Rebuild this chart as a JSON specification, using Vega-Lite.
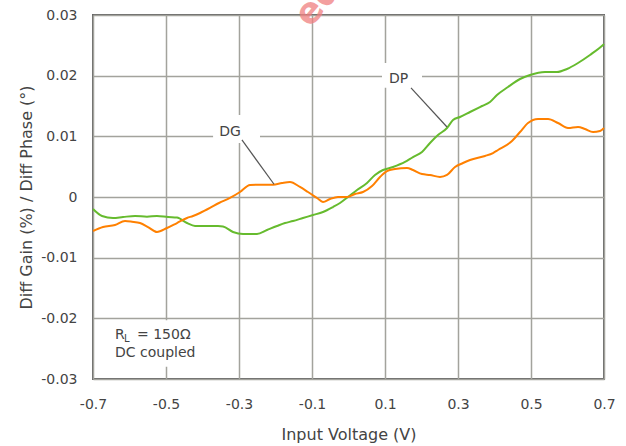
{
  "$schema": "https://vega.github.io/schema/vega-lite/v6.json",
  "width": 511,
  "height": 364,
  "autosize": {"type": "none"},
  "padding": {"left": 93, "top": 15, "right": 22, "bottom": 67},
  "background": "white",
  "config": {
    "view": {"stroke": "#666666", "strokeWidth": 2},
    "font": "DejaVu Sans",
    "axis": {
      "labelFont": "DejaVu Sans", "titleFont": "DejaVu Sans",
      "labelColor": "#444444", "titleColor": "#444444",
      "titleFontWeight": "normal", "labelFontSize": 14, "titleFontSize": 16,
      "gridColor": "#a3a39d", "gridWidth": 1.5, "gridOpacity": 1,
      "domain": false, "ticks": false, "tickSize": 0
    }
  },
  "datasets": {
    "curves": [
      {"v": -0.7, "val": -0.00198, "s": "DP"},
      {"v": -0.6753, "val": -0.00313, "s": "DP"},
      {"v": -0.6452, "val": -0.00346, "s": "DP"},
      {"v": -0.6178, "val": -0.0033, "s": "DP"},
      {"v": -0.5849, "val": -0.00313, "s": "DP"},
      {"v": -0.5521, "val": -0.00324, "s": "DP"},
      {"v": -0.5247, "val": -0.00313, "s": "DP"},
      {"v": -0.4945, "val": -0.0033, "s": "DP"},
      {"v": -0.4699, "val": -0.00338, "s": "DP"},
      {"v": -0.4425, "val": -0.00429, "s": "DP"},
      {"v": -0.4205, "val": -0.00478, "s": "DP"},
      {"v": -0.3877, "val": -0.00478, "s": "DP"},
      {"v": -0.3575, "val": -0.00478, "s": "DP"},
      {"v": -0.3438, "val": -0.00485, "s": "DP"},
      {"v": -0.3164, "val": -0.00577, "s": "DP"},
      {"v": -0.289, "val": -0.0061, "s": "DP"},
      {"v": -0.2507, "val": -0.0061, "s": "DP"},
      {"v": -0.2233, "val": -0.00544, "s": "DP"},
      {"v": -0.1959, "val": -0.00478, "s": "DP"},
      {"v": -0.174, "val": -0.00429, "s": "DP"},
      {"v": -0.1521, "val": -0.00396, "s": "DP"},
      {"v": -0.1247, "val": -0.00346, "s": "DP"},
      {"v": -0.0973, "val": -0.00297, "s": "DP"},
      {"v": -0.0699, "val": -0.00247, "s": "DP"},
      {"v": -0.0425, "val": -0.00165, "s": "DP"},
      {"v": -0.0233, "val": -0.00099, "s": "DP"},
      {"v": -0.0014, "val": 0.0, "s": "DP"},
      {"v": 0.0233, "val": 0.00115, "s": "DP"},
      {"v": 0.0507, "val": 0.00231, "s": "DP"},
      {"v": 0.0726, "val": 0.00363, "s": "DP"},
      {"v": 0.0945, "val": 0.00445, "s": "DP"},
      {"v": 0.1219, "val": 0.00494, "s": "DP"},
      {"v": 0.1548, "val": 0.00577, "s": "DP"},
      {"v": 0.1767, "val": 0.00659, "s": "DP"},
      {"v": 0.2014, "val": 0.00742, "s": "DP"},
      {"v": 0.2233, "val": 0.0089, "s": "DP"},
      {"v": 0.2452, "val": 0.01022, "s": "DP"},
      {"v": 0.2699, "val": 0.01137, "s": "DP"},
      {"v": 0.2863, "val": 0.01269, "s": "DP"},
      {"v": 0.3055, "val": 0.01319, "s": "DP"},
      {"v": 0.3329, "val": 0.01401, "s": "DP"},
      {"v": 0.3658, "val": 0.015, "s": "DP"},
      {"v": 0.3877, "val": 0.01566, "s": "DP"},
      {"v": 0.4068, "val": 0.01681, "s": "DP"},
      {"v": 0.437, "val": 0.01813, "s": "DP"},
      {"v": 0.4699, "val": 0.01945, "s": "DP"},
      {"v": 0.4973, "val": 0.02011, "s": "DP"},
      {"v": 0.5384, "val": 0.0206, "s": "DP"},
      {"v": 0.5712, "val": 0.0206, "s": "DP"},
      {"v": 0.5986, "val": 0.0211, "s": "DP"},
      {"v": 0.6288, "val": 0.02209, "s": "DP"},
      {"v": 0.6616, "val": 0.02341, "s": "DP"},
      {"v": 0.6973, "val": 0.02505, "s": "DP"},
      {"v": 0.7, "val": 0.0252, "s": "DP"},
      {"v": -0.7, "val": -0.00561, "s": "DG"},
      {"v": -0.6726, "val": -0.00495, "s": "DG"},
      {"v": -0.6397, "val": -0.00462, "s": "DG"},
      {"v": -0.6123, "val": -0.00396, "s": "DG"},
      {"v": -0.5932, "val": -0.00407, "s": "DG"},
      {"v": -0.5712, "val": -0.00429, "s": "DG"},
      {"v": -0.5493, "val": -0.00495, "s": "DG"},
      {"v": -0.5247, "val": -0.00577, "s": "DG"},
      {"v": -0.4973, "val": -0.00511, "s": "DG"},
      {"v": -0.4699, "val": -0.00429, "s": "DG"},
      {"v": -0.4425, "val": -0.00346, "s": "DG"},
      {"v": -0.426, "val": -0.00313, "s": "DG"},
      {"v": -0.4068, "val": -0.00264, "s": "DG"},
      {"v": -0.3795, "val": -0.00181, "s": "DG"},
      {"v": -0.3548, "val": -0.00099, "s": "DG"},
      {"v": -0.3247, "val": -0.00016, "s": "DG"},
      {"v": -0.2973, "val": 0.00082, "s": "DG"},
      {"v": -0.2699, "val": 0.00198, "s": "DG"},
      {"v": -0.2425, "val": 0.00203, "s": "DG"},
      {"v": -0.2068, "val": 0.00203, "s": "DG"},
      {"v": -0.1822, "val": 0.00231, "s": "DG"},
      {"v": -0.1603, "val": 0.00247, "s": "DG"},
      {"v": -0.1329, "val": 0.00165, "s": "DG"},
      {"v": -0.111, "val": 0.00082, "s": "DG"},
      {"v": -0.0863, "val": -0.00016, "s": "DG"},
      {"v": -0.0699, "val": -0.00082, "s": "DG"},
      {"v": -0.0507, "val": -0.00033, "s": "DG"},
      {"v": -0.0288, "val": 0.0, "s": "DG"},
      {"v": -0.0041, "val": 0.0, "s": "DG"},
      {"v": 0.0178, "val": 0.00049, "s": "DG"},
      {"v": 0.0397, "val": 0.00082, "s": "DG"},
      {"v": 0.0644, "val": 0.00181, "s": "DG"},
      {"v": 0.0863, "val": 0.0033, "s": "DG"},
      {"v": 0.1055, "val": 0.00428, "s": "DG"},
      {"v": 0.1274, "val": 0.00461, "s": "DG"},
      {"v": 0.1603, "val": 0.00478, "s": "DG"},
      {"v": 0.1767, "val": 0.00445, "s": "DG"},
      {"v": 0.2014, "val": 0.00379, "s": "DG"},
      {"v": 0.2233, "val": 0.00363, "s": "DG"},
      {"v": 0.2507, "val": 0.0033, "s": "DG"},
      {"v": 0.2699, "val": 0.00363, "s": "DG"},
      {"v": 0.2918, "val": 0.00494, "s": "DG"},
      {"v": 0.3137, "val": 0.0056, "s": "DG"},
      {"v": 0.3329, "val": 0.0061, "s": "DG"},
      {"v": 0.374, "val": 0.00676, "s": "DG"},
      {"v": 0.3959, "val": 0.00725, "s": "DG"},
      {"v": 0.4096, "val": 0.00775, "s": "DG"},
      {"v": 0.4479, "val": 0.00923, "s": "DG"},
      {"v": 0.4699, "val": 0.01071, "s": "DG"},
      {"v": 0.4918, "val": 0.0122, "s": "DG"},
      {"v": 0.5192, "val": 0.01286, "s": "DG"},
      {"v": 0.5466, "val": 0.01286, "s": "DG"},
      {"v": 0.574, "val": 0.0122, "s": "DG"},
      {"v": 0.6014, "val": 0.01137, "s": "DG"},
      {"v": 0.6288, "val": 0.01154, "s": "DG"},
      {"v": 0.6479, "val": 0.01121, "s": "DG"},
      {"v": 0.6699, "val": 0.01071, "s": "DG"},
      {"v": 0.689, "val": 0.01088, "s": "DG"},
      {"v": 0.7, "val": 0.01137, "s": "DG"}
    ],
    "boxes": [
      {"x1": -0.371, "x2": -0.2425, "y1": 0.0089, "y2": 0.0135},
      {"x1": 0.0918, "x2": 0.2014, "y1": 0.018, "y2": 0.0221},
      {"x1": -0.6945, "x2": -0.366, "y1": -0.028, "y2": -0.0203}
    ],
    "leaders": [
      {"x1": -0.292, "y1": 0.0094, "x2": -0.204, "y2": 0.0021},
      {"x1": 0.1712, "y1": 0.018, "x2": 0.2699, "y2": 0.01154}
    ],
    "notesC": [
      {"x": -0.3247, "y": 0.01005, "t": "DG"},
      {"x": 0.137, "y": 0.01879, "t": "DP"}
    ],
    "notesL": [
      {"x": -0.6397, "y": -0.02341, "t": "R", "sz": 14},
      {"x": -0.6151, "y": -0.0239, "t": "L", "sz": 10},
      {"x": -0.5795, "y": -0.02341, "t": "= 150Ω", "sz": 14},
      {"x": -0.6397, "y": -0.02637, "t": "DC coupled", "sz": 14}
    ],
    "stamp": [
      {"x": -0.0836, "y": 0.0321, "t": "ed"}
    ]
  },
  "layer": [
    {
      "data": {"name": "boxes"},
      "mark": {"type": "rect", "fill": "white", "stroke": null},
      "encoding": {
        "x": {"field": "x1", "type": "quantitative", "scale": {"domain": [-0.7, 0.7], "nice": false, "zero": false},
          "axis": {
            "values": [-0.7, -0.6, -0.5, -0.4, -0.3, -0.2, -0.1, 0, 0.1, 0.2, 0.3, 0.4, 0.5, 0.6, 0.7],
            "labelExpr": "abs(round(datum.value*10)) % 2 == 1 ? (datum.value < 0 ? '-' : '') + format(abs(datum.value), '.1f') : ''",
            "labelPadding": 18, "labelBaseline": "top", "labelFlush": false, "labelOverlap": false,
            "title": "Input Voltage (V)", "titleBaseline": "alphabetic", "titleY": 60
          }
        },
        "x2": {"field": "x2"},
        "y": {"field": "y1", "type": "quantitative", "scale": {"domain": [-0.03, 0.03], "nice": false, "zero": false},
          "axis": {
            "values": [-0.03, -0.02, -0.01, 0, 0.01, 0.02, 0.03],
            "labelExpr": "datum.value == 0 ? '0' : (datum.value < 0 ? '-' : '') + format(abs(datum.value), '.2f')",
            "labelPadding": 16, "labelFlush": false, "labelOverlap": false,
            "title": "Diff Gain (%) / Diff Phase (°)", "titleBaseline": "alphabetic", "titleX": -62, "titleY": 182, "titleAngle": -90, "titleAlign": "center"
          }
        },
        "y2": {"field": "y2"}
      }
    },
    {
      "data": {"name": "curves"},
      "mark": {"type": "line", "strokeWidth": 2, "interpolate": "monotone"},
      "encoding": {
        "x": {"field": "v", "type": "quantitative"},
        "y": {"field": "val", "type": "quantitative"},
        "color": {"field": "s", "type": "nominal", "scale": {"domain": ["DG", "DP"], "range": ["#ff8000", "#66bb2e"]}, "legend": null}
      }
    },
    {
      "data": {"name": "leaders"},
      "mark": {"type": "rule", "color": "#555555", "strokeWidth": 1.2},
      "encoding": {
        "x": {"field": "x1", "type": "quantitative"},
        "y": {"field": "y1", "type": "quantitative"},
        "x2": {"field": "x2"},
        "y2": {"field": "y2"}
      }
    },
    {
      "data": {"name": "notesC"},
      "mark": {"type": "text", "baseline": "alphabetic", "align": "center", "color": "#444444", "font": "DejaVu Sans", "fontSize": 14},
      "encoding": {
        "x": {"field": "x", "type": "quantitative"},
        "y": {"field": "y", "type": "quantitative"},
        "text": {"field": "t"}
      }
    },
    {
      "data": {"name": "notesL"},
      "mark": {"type": "text", "baseline": "alphabetic", "align": "left", "color": "#444444", "font": "DejaVu Sans"},
      "encoding": {
        "x": {"field": "x", "type": "quantitative"},
        "y": {"field": "y", "type": "quantitative"},
        "text": {"field": "t"},
        "size": {"field": "sz", "type": "quantitative", "scale": null}
      }
    },
    {
      "data": {"name": "stamp"},
      "mark": {"type": "text", "baseline": "middle", "align": "center", "color": "#f08080", "opacity": 0.75, "font": "DejaVu Sans", "fontWeight": "bold", "fontSize": 36, "angle": 310},
      "encoding": {
        "x": {"field": "x", "type": "quantitative"},
        "y": {"field": "y", "type": "quantitative"},
        "text": {"field": "t"}
      }
    }
  ]
}
